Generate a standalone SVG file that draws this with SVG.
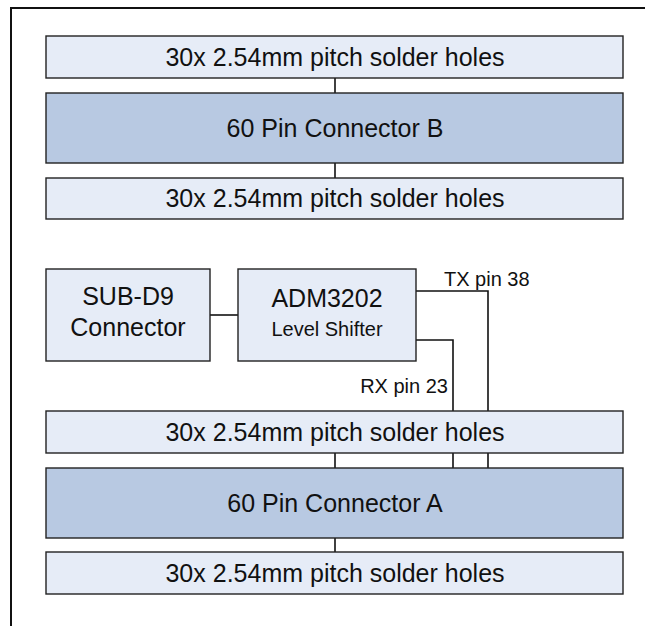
<svg xmlns="http://www.w3.org/2000/svg" width="645" height="626" viewBox="0 0 645 626">
<style>
.bg{fill:#ffffff}
.frame{fill:none;stroke:#111;stroke-width:2}
.light{fill:#E6ECF7;stroke:#222;stroke-width:1.4}
.dark{fill:#B8C9E2;stroke:#222;stroke-width:1.4}
.wire{fill:none;stroke:#111;stroke-width:1.6}
text{font-family:"Liberation Sans",Arial,sans-serif;fill:#111}
.big{font-size:25px;text-anchor:middle}
.small{font-size:20px;text-anchor:middle}
.lbl{font-size:20px}
</style>
<rect class="bg" x="0" y="0" width="645" height="626"/>
<path class="frame" d="M11,626 V8 H645"/>
<g id="connectors">
<line class="wire" x1="335" y1="78" x2="335" y2="93"/>
<line class="wire" x1="335" y1="163" x2="335" y2="178"/>
<line class="wire" x1="210" y1="315" x2="238" y2="315"/>
<polyline class="wire" points="416,291 488,291 488,468"/>
<polyline class="wire" points="416,340 453,340 453,468"/>
<line class="wire" x1="335" y1="453" x2="335" y2="468"/>
<line class="wire" x1="335" y1="538" x2="335" y2="552"/>
<text class="lbl" x="444" y="286">TX pin 38</text>
<text class="lbl" x="448" y="393" text-anchor="end">RX pin 23</text>
</g>
<g id="solderB1"><rect class="light" x="46" y="36" width="577" height="42"/><text class="big" x="335" y="66">30x 2.54mm pitch solder holes</text></g>
<g id="connB"><rect class="dark" x="46" y="93" width="577" height="70"/><text class="big" x="335" y="137">60 Pin Connector B</text></g>
<g id="solderB2"><rect class="light" x="46" y="178" width="577" height="41"/><text class="big" x="335" y="207">30x 2.54mm pitch solder holes</text></g>
<g id="subd9"><rect class="light" x="46" y="269" width="164" height="92"/><text class="big" x="128" y="305">SUB-D9</text><text class="big" x="128" y="336">Connector</text></g>
<g id="adm"><rect class="light" x="238" y="269" width="178" height="92"/><text class="big" x="327" y="307">ADM3202</text><text class="small" x="327" y="336">Level Shifter</text></g>
<g id="solderA1"><rect class="light" x="46" y="411" width="577" height="42"/><text class="big" x="335" y="441">30x 2.54mm pitch solder holes</text></g>
<g id="connA"><rect class="dark" x="46" y="468" width="577" height="70"/><text class="big" x="335" y="512">60 Pin Connector A</text></g>
<g id="solderA2"><rect class="light" x="46" y="552" width="577" height="42"/><text class="big" x="335" y="582">30x 2.54mm pitch solder holes</text></g>
</svg>
